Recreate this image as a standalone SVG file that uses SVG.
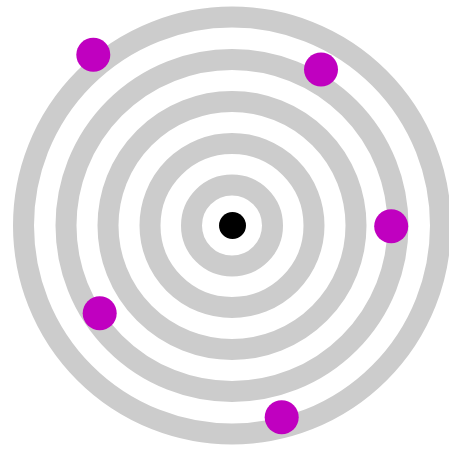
<svg xmlns="http://www.w3.org/2000/svg" width="449" height="449" viewBox="0 0 449 449">
  <style>
    .ring { fill: none; stroke: #cccccc; stroke-width: 21; }
    .dot { fill: #c000c0; }
    .center { fill: #000000; }
  </style>
  <rect width="449" height="449" fill="#ffffff"/>
  <g id="rings">
    <circle class="ring" cx="232" cy="225.5" r="40.5"/>
    <circle class="ring" cx="232" cy="225.5" r="82"/>
    <circle class="ring" cx="232" cy="225.5" r="124"/>
    <circle class="ring" cx="232" cy="225.5" r="166"/>
    <circle class="ring" cx="232" cy="225.5" r="208.5"/>
  </g>
  <g id="center"><circle class="center" cx="232.5" cy="225.5" r="13.5"/></g>
  <g id="dot1"><circle class="dot" cx="93.3" cy="54.7" r="17"/></g>
  <g id="dot2"><circle class="dot" cx="321" cy="69.5" r="17"/></g>
  <g id="dot3"><circle class="dot" cx="391.2" cy="226.2" r="17"/></g>
  <g id="dot4"><circle class="dot" cx="99.7" cy="313.3" r="17"/></g>
  <g id="dot5"><circle class="dot" cx="281.7" cy="417.2" r="17"/></g>
  <g id="connectors"/>
</svg>
